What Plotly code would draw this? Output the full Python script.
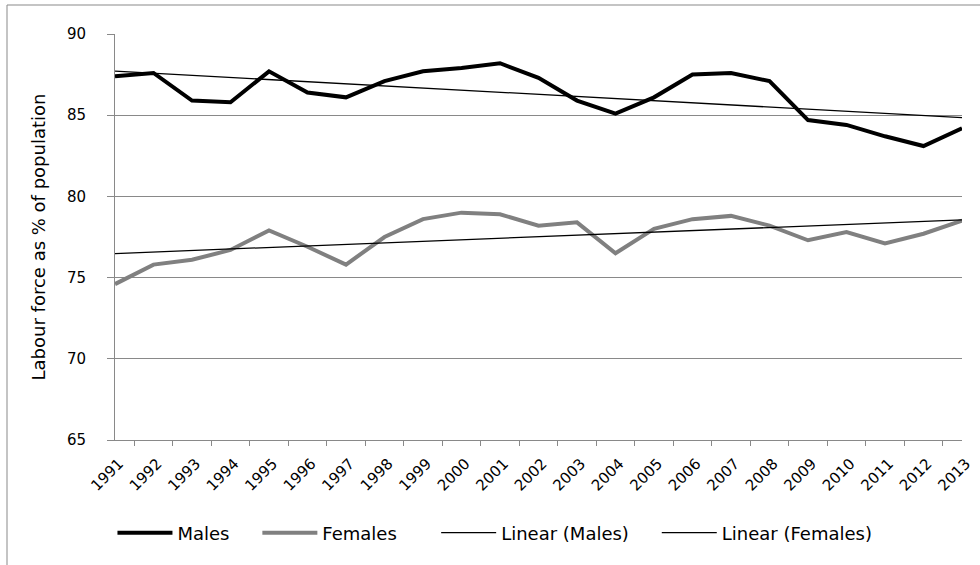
import plotly.graph_objects as go
import numpy as np

# Years and labour force participation (% of population)
years = [str(y) for y in range(1991, 2014)]
males = [87.4, 87.6, 85.9, 85.8, 87.7, 86.4, 86.1, 87.1, 87.7, 87.9, 88.2, 87.3,
         85.9, 85.1, 86.1, 87.5, 87.6, 87.1, 84.7, 84.4, 83.7, 83.1, 84.2]
females = [74.6, 75.8, 76.1, 76.7, 77.9, 76.9, 75.8, 77.5, 78.6, 79.0, 78.9, 78.2,
           78.4, 76.5, 78.0, 78.6, 78.8, 78.2, 77.3, 77.8, 77.1, 77.7, 78.5]
y_ticks = [65, 70, 75, 80, 85, 90]

# Linear trendlines (least squares, like Excel's "Linear" trendline)
idx = np.arange(len(years))
m_fit = np.polyval(np.polyfit(idx, males, 1), idx)
f_fit = np.polyval(np.polyfit(idx, females, 1), idx)

font_family = "DejaVu Sans, Arial, sans-serif"
grid_color = '#898989'
nb = '\u00a0'  # padding between legend entries

fig = go.Figure()

fig.add_trace(go.Scatter(x=years, y=males, mode='lines', name='Males' + nb * 4,
                         line=dict(color='black', width=4)))
fig.add_trace(go.Scatter(x=years, y=females, mode='lines', name='Females' + nb * 6,
                         line=dict(color='#808080', width=4)))
fig.add_trace(go.Scatter(x=years, y=m_fit, mode='lines', name='Linear (Males)' + nb * 4,
                         line=dict(color='black', width=1.3)))
fig.add_trace(go.Scatter(x=years, y=f_fit, mode='lines', name='Linear (Females)',
                         line=dict(color='black', width=1.3)))

# outer chart border (only left/top visible in the frame)
fig.add_shape(type='rect', xref='paper', yref='paper',
              x0=-0.1275, y0=-0.5, x1=1.2, y1=1.0714,
              line=dict(color=grid_color, width=1), fillcolor='rgba(0,0,0,0)')

fig.update_layout(
    width=980, height=565,
    margin=dict(l=115, r=18, t=34, b=125),
    plot_bgcolor='white', paper_bgcolor='white',
    font=dict(family=font_family, color='black', size=15),
    legend=dict(orientation='h', x=-0.003, xanchor='left', y=-0.229, yanchor='middle',
                font=dict(size=18), traceorder='normal', itemwidth=55),
    xaxis=dict(type='category', tickson='boundaries', ticks='outside', ticklen=5,
               tickcolor=grid_color, showline=True, linecolor=grid_color, linewidth=1,
               showgrid=False, tickangle=-45, tickfont=dict(size=15),
               ticklabelstandoff=8, ticklabelshift=4, automargin=False),
    yaxis=dict(range=[65, 90], tickvals=y_ticks, ticks='outside', ticklen=7,
               tickcolor=grid_color, showline=True, linecolor=grid_color, linewidth=1,
               showgrid=True, gridcolor=grid_color, gridwidth=1, zeroline=False,
               tickfont=dict(size=15), ticklabelstandoff=18, automargin=False,
               title=dict(text='Labour force as % of population', font=dict(size=18),
                          standoff=16)),
)

fig.write_html("out.html", config={'displayModeBar': False},
               post_script="document.body.style.margin='0';")
